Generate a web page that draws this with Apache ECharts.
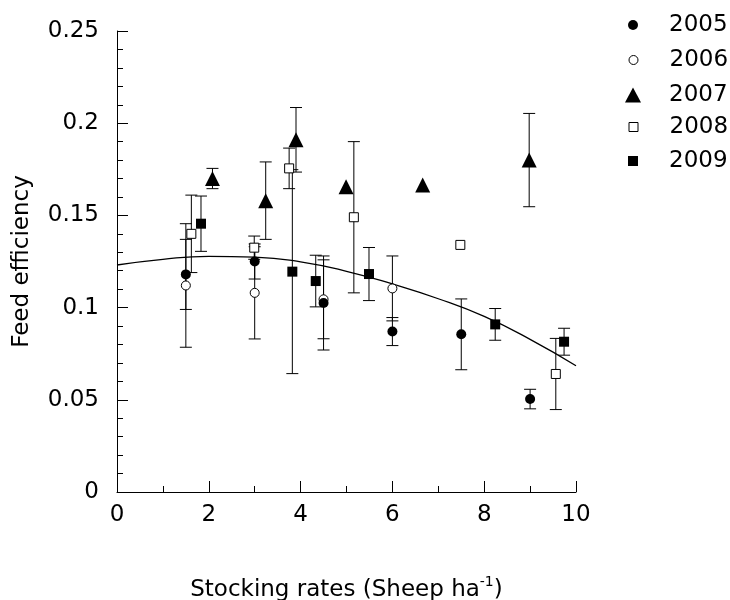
<!DOCTYPE html>
<html>
<head>
<meta charset="utf-8">
<script src="https://cdn.jsdelivr.net/npm/echarts@6/dist/echarts.min.js"></script>
<style>html,body{margin:0;padding:0;background:#fff}#c{width:730px;height:600px}</style>
</head>
<body>
<div id="c"></div>
<script>
// ---- data ----
var years = ['2005', '2006', '2007', '2008', '2009'];

var x2005 = [1.5, 3.0, 4.5, 6.0, 7.5, 9.0];
var y2005 = [0.118, 0.125, 0.1025, 0.087, 0.0855, 0.0504];
var e2005 = [0.019, 0.0095, 0.0255, 0.0076, 0.0192, 0.0053];

var x2006 = [1.5, 3.0, 4.5, 6.0];
var y2006 = [0.112, 0.108, 0.1045, 0.1104];
var e2006 = [0.0335, 0.025, 0.0214, 0.0176];

var x2007 = [2.08, 3.24, 3.9, 4.99, 6.66, 8.98];
var y2007 = [0.170, 0.158, 0.191, 0.1656, 0.1665, 0.180];
var e2007 = [0.0055, 0.021, 0.0175, null, null, 0.0253];

var x2008 = [1.62, 2.99, 3.75, 5.16, 7.48, 9.56];
var y2008 = [0.140, 0.1325, 0.1755, 0.149, 0.134, 0.064];
var e2008 = [0.021, 0.0063, 0.011, 0.041, null, 0.0193];

var x2009 = [1.83, 3.82, 4.33, 5.49, 8.24, 9.74];
var y2009 = [0.1455, 0.1195, 0.1144, 0.1182, 0.0909, 0.0815];
var e2009 = [0.015, 0.0553, 0.014, 0.0144, 0.0086, 0.0073];

// fitted curve
var fitX = [0, 1, 2, 3, 4, 5, 6, 7, 8, 9, 10];
var fitY = [0.1231, 0.1262, 0.1278, 0.1274, 0.1248, 0.1197, 0.1128, 0.1048, 0.0952, 0.0828, 0.0685];

var xTicks = [0, 2, 4, 6, 8, 10];
var yTicks = [0, 0.05, 0.1, 0.15, 0.2, 0.25];

// ---- build ----
var FONT = 'DejaVu Sans';
function pts(xs, ys) { return xs.map(function (x, i) { return [x, ys[i]]; }); }
function errPts(xs, ys, es) {
  var out = [];
  xs.forEach(function (x, i) { if (es[i] != null) out.push([x, ys[i], es[i]]); });
  return out;
}
function errRender(params, api) {
  var x = api.value(0), y = api.value(1), e = api.value(2);
  var t = api.coord([x, y + e]), b = api.coord([x, y - e]);
  var hw = 6, st = { stroke: '#000', lineWidth: 1 };
  return { type: 'group', children: [
    { type: 'line', shape: { x1: t[0], y1: t[1], x2: b[0], y2: b[1] }, style: st },
    { type: 'line', shape: { x1: t[0] - hw, y1: t[1], x2: t[0] + hw, y2: t[1] }, style: st },
    { type: 'line', shape: { x1: b[0] - hw, y1: b[1], x2: b[0] + hw, y2: b[1] }, style: st }
  ] };
}
function errSeries(name, xs, ys, es) {
  return { type: 'custom', name: name + ' err', renderItem: errRender, data: errPts(xs, ys, es),
    encode: { x: 0, y: 1 }, z: 1, silent: true };
}

var styles = {
  '2005': { symbol: 'circle', size: 10, item: { color: '#000', opacity: 1 }, lw: 10, lh: 10, z: 4 },
  '2006': { symbol: 'circle', size: 9, item: { color: '#fff', borderColor: '#000', borderWidth: 1, opacity: 1 }, lw: 9, lh: 9, z: 3 },
  '2007': { symbol: 'triangle', size: 15, item: { color: '#000', opacity: 1 }, lw: 16, lh: 15, z: 3 },
  '2008': { symbol: 'rect', size: 9, item: { color: '#fff', borderColor: '#000', borderWidth: 1, opacity: 1 }, lw: 9, lh: 9, z: 3 },
  '2009': { symbol: 'rect', size: 10, item: { color: '#000', opacity: 1 }, lw: 10, lh: 10, z: 3 }
};
var dataSets = {
  '2005': [x2005, y2005, e2005], '2006': [x2006, y2006, e2006], '2007': [x2007, y2007, e2007],
  '2008': [x2008, y2008, e2008], '2009': [x2009, y2009, e2009]
};

var series = [];
years.forEach(function (yr) {
  var d = dataSets[yr];
  series.push(errSeries(yr, d[0], d[1], d[2]));
});
years.forEach(function (yr) {
  var d = dataSets[yr], s = styles[yr];
  series.push({ type: 'scatter', name: yr, data: pts(d[0], d[1]), symbol: s.symbol, symbolSize: s.size,
    itemStyle: s.item, z: s.z, emphasis: { disabled: true } });
});
series.push({ type: 'line', name: 'fit', data: pts(fitX, fitY), smooth: true, showSymbol: false, symbol: 'none',
  lineStyle: { color: '#000', width: 1.3 }, z: 2, silent: true });

var legendRowsY = [25, 60, 95, 127, 161];
var legends = years.map(function (yr, i) {
  var s = styles[yr];
  return {
    data: [yr], orient: 'vertical', left: 633 - s.lw / 2, top: legendRowsY[i] - 12, padding: 0,
    itemWidth: s.lw, itemHeight: s.lh, selectedMode: false,
    itemStyle: s.item,
    textStyle: { fontFamily: FONT, fontSize: 23, color: '#000', lineHeight: 24,
      padding: [0, 0, 0, 31 - s.lw / 2] }
  };
});

var axisCommon = {
  axisLine: { show: true, lineStyle: { color: '#000', width: 1 } },
  axisTick: { show: true, inside: true, length: 11, lineStyle: { color: '#000' } },
  splitLine: { show: false },
  minorSplitLine: { show: false }
};

var chart = echarts.init(document.getElementById('c'), null, { renderer: 'canvas' });
chart.setOption({
  animation: false,
  backgroundColor: '#fff',
  legend: legends,
  grid: { left: 117, right: 154, top: 31, bottom: 108, containLabel: false, outerBoundsMode: 'none' },
  xAxis: Object.assign({}, axisCommon, {
    type: 'value', min: xTicks[0], max: xTicks[xTicks.length - 1], interval: 2,
    minorTick: { show: true, splitNumber: 2, length: 6, lineStyle: { color: '#000' } },
    axisLabel: { fontFamily: FONT, fontSize: 23, color: '#000', margin: 12 },
    name: '{a|Stocking rates (Sheep ha}{s|-1}{a|)}',
    nameLocation: 'middle', nameGap: 83,
    nameTextStyle: { rich: {
      a: { fontFamily: FONT, fontSize: 23, color: '#000', lineHeight: 30 },
      s: { fontFamily: FONT, fontSize: 14, color: '#000', lineHeight: 14, verticalAlign: 'top' }
    } }
  }),
  yAxis: Object.assign({}, axisCommon, {
    type: 'value', min: yTicks[0], max: yTicks[yTicks.length - 1], interval: 0.05,
    minorTick: { show: true, splitNumber: 5, length: 6, lineStyle: { color: '#000' } },
    axisLabel: { fontFamily: FONT, fontSize: 23, color: '#000', margin: 18 },
    name: 'Feed efficiency', nameLocation: 'middle', nameGap: 83, nameRotate: 90,
    nameTextStyle: { fontFamily: FONT, fontSize: 23, color: '#000' }
  }),
  series: series
});
</script>
</body>
</html>
